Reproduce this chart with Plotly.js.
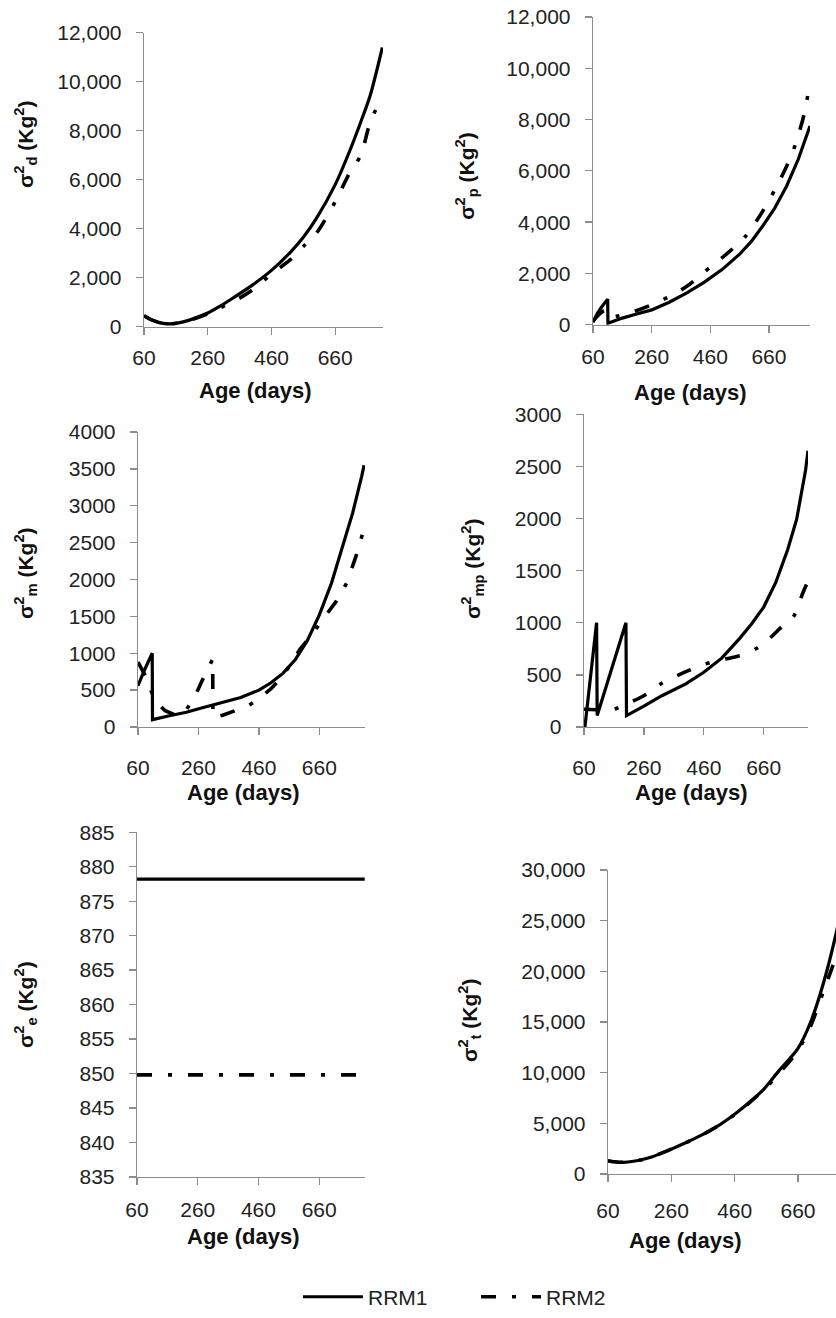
<!DOCTYPE html>
<html><head><meta charset="utf-8">
<script src="https://cdn.plot.ly/plotly-3.0.1.min.js"></script>
<style>html,body{margin:0;padding:0;background:#fff}#chart{width:836px;height:1318px}</style>
</head><body><div id="chart"></div>
<script>
// ---- Data ----
const xTicks = [60, 260, 460, 660];
const seriesNames = ['RRM1', 'RRM2'];

// sigma2_d
const dAges  = [60, 80, 100, 120, 140, 160, 200, 260, 300, 340, 400, 460, 520, 560, 600, 660, 700, 740, 770, 808];
const dRRM1  = [450, 300, 200, 140, 120, 140, 260, 560, 850, 1180, 1700, 2300, 3050, 3650, 4400, 5800, 7000, 8350, 9450, 11400];
const dRRM2  = [450, 300, 210, 140, 120, 140, 250, 530, 780, 1020, 1500, 2150, 2750, 3280, 3800, 5100, 6150, 7000, 8350, 9400];

// sigma2_p
const pAges1 = [60, 75, 90, 110, 111, 130, 160, 200, 260, 320, 380, 440, 500, 560, 600, 640, 680, 720, 760, 800];
const pRRM1  = [100, 450, 700, 1000, 60, 150, 260, 390, 580, 880, 1240, 1660, 2150, 2750, 3250, 3870, 4550, 5400, 6450, 7750];
const pAges2 = [60, 80, 100, 110, 140, 200, 260, 320, 380, 460, 520, 580, 640, 700, 740, 780, 800];
const pRRM2  = [150, 400, 550, 300, 330, 520, 780, 1100, 1500, 2250, 2800, 3450, 4450, 5700, 6700, 8200, 9500];

// sigma2_m
const mAges1 = [60, 80, 107, 108, 160, 220, 264, 320, 400, 460, 500, 540, 580, 620, 660, 700, 740, 770, 800, 808];
const mRRM1  = [560, 760, 1000, 100, 150, 200, 250, 310, 400, 500, 600, 730, 910, 1170, 1520, 1950, 2500, 2900, 3400, 3550];
const mAges2 = [60, 85, 100, 120, 150, 190, 215, 250, 270, 290, 307, 308, 340, 380, 425, 460, 500, 530, 560, 595, 635, 670, 715, 750, 780, 805];
const mRRM2  = [880, 690, 520, 340, 220, 150, 200, 430, 610, 790, 920, 130, 160, 220, 290, 380, 520, 650, 820, 1050, 1250, 1450, 1700, 1950, 2300, 2650];

// sigma2_mp
const mpAges1 = [60, 63, 102, 104, 200, 202, 260, 320, 400, 460, 520, 580, 620, 660, 700, 740, 770, 800, 808];
const mpRRM1  = [0, 0, 1000, 110, 1000, 110, 200, 300, 414, 525, 660, 850, 990, 1150, 1384, 1700, 1990, 2465, 2650];
const mpAges2 = [60, 100, 150, 200, 260, 320, 400, 460, 500, 560, 600, 640, 680, 720, 760, 790, 805];
const mpRRM2  = [170, 165, 160, 220, 300, 420, 530, 600, 630, 670, 700, 760, 850, 960, 1060, 1280, 1380];

// sigma2_e
const eAges = [60, 810];
const eRRM1 = [878.2, 878.2];
const eRRM2 = [849.8, 849.8];

// sigma2_t
const tAges = [60, 80, 110, 140, 172, 200, 260, 300, 360, 400, 460, 500, 550, 600, 660, 700, 740, 780, 805];
const tRRM1 = [1300, 1200, 1150, 1250, 1450, 1700, 2450, 3000, 3900, 4600, 5900, 6900, 8300, 10200, 12400, 15000, 18800, 23700, 27500];
const tRRM2 = [1300, 1200, 1150, 1250, 1450, 1700, 2450, 3000, 3900, 4600, 5850, 6850, 8250, 9900, 12200, 14600, 18000, 21500, 24500];

const xTitle = 'Age (days)';
const yTitles = [
  'σ<sup>2</sup><sub>d</sub> (Kg<sup>2</sup>)',
  'σ<sup>2</sup><sub>p</sub> (Kg<sup>2</sup>)',
  'σ<sup>2</sup><sub>m</sub> (Kg<sup>2</sup>)',
  'σ<sup>2</sup><sub>mp</sub> (Kg<sup>2</sup>)',
  'σ<sup>2</sup><sub>e</sub> (Kg<sup>2</sup>)',
  'σ<sup>2</sup><sub>t</sub> (Kg<sup>2</sup>)'
];

// ---- Layout geometry (pixels) ----
const W = 836, H = 1318;
const fx = v => v / W;
const fy = v => 1 - v / H;

const panels = [
  {xs:[dAges,dAges],    ys:[dRRM1,dRRM2],   jump:[false,false], box:[144,383,33,329],   xr:[60,810], yr:[0,12000], dt:2000, fmt:',d', xt:[255,393], yt:[25,145],  xso:5,  yso:10},
  {xs:[pAges1,pAges2],  ys:[pRRM1,pRRM2],   jump:[true,false],  box:[593,810,17,327],   xr:[60,800], yr:[0,12000], dt:2000, fmt:',d', xt:[690,395], yt:[467,177], xso:6,  yso:10},
  {xs:[mAges1,mAges2],  ys:[mRRM1,mRRM2],   jump:[true,true],   box:[138,365,435,732],  xr:[60,811], yr:[0,4000],  dt:500,  fmt:'d',  xt:[243,798], yt:[25,577],  xso:14, yso:10},
  {xs:[mpAges1,mpAges2],ys:[mpRRM1,mpRRM2], jump:[true,false],  box:[584,808,417,732],  xr:[60,808], yr:[0,3000],  dt:500,  fmt:'d',  xt:[691,798], yt:[472,572], xso:14, yso:10},
  {xs:[eAges,eAges],    ys:[eRRM1,eRRM2],   jump:[false,false], box:[137,365,838,1185], xr:[60,811], yr:[835,885], dt:5,    fmt:'d',  xt:[243,1245],yt:[25,1012], xso:7,  yso:10},
  {xs:[tAges,tAges],    ys:[tRRM1,tRRM2],   jump:[false,false], box:[608,836,876,1182], xr:[60,780], yr:[0,30000], dt:5000, fmt:',d', xt:[685,1249],yt:[470,1028], xso:11, yso:10}
];

const tickFont = {family:'Liberation Sans, Arial, sans-serif', size:21, color:'#222'};
const axisCommon = {
  showline:true, linecolor:'#8c8c8c', linewidth:1.3,
  ticks:'outside', ticklen:7, tickwidth:1.3, tickcolor:'#8c8c8c',
  showgrid:false, zeroline:false, tickfont:tickFont, fixedrange:true
};
const lineStyles = [
  {color:'#000', width:3.2, dash:'solid'},
  {color:'#000', width:3.6, dash:'15px,16px,4px,16px'}
];

const traces = [];
const layout = {
  width:W, height:H, margin:{l:0,r:0,t:0,b:0},
  paper_bgcolor:'#fff', plot_bgcolor:'rgba(0,0,0,0)',
  showlegend:true,
  legend:{orientation:'h', x:fx(298), xanchor:'left', y:fy(1306), yanchor:'middle',
          font:{family:'Liberation Sans, Arial, sans-serif', size:21, color:'#222'},
          itemwidth:60, entrywidth:103, entrywidthmode:'pixels',
          bgcolor:'rgba(0,0,0,0)', traceorder:'normal'},
  annotations:[]
};

panels.forEach((p, i) => {
  const n = i === 0 ? '' : String(i + 1);
  const xa = 'xaxis' + n, ya = 'yaxis' + n;
  layout[xa] = Object.assign({}, axisCommon, {
    domain:[fx(p.box[0]), fx(p.box[1])], range:p.xr, anchor:'y' + n,
    tickvals:xTicks, ticktext:xTicks.map(String), ticklabelstandoff:p.xso
  });
  layout[ya] = Object.assign({}, axisCommon, {
    domain:[fy(p.box[3]), fy(p.box[2])], range:p.yr, anchor:'x' + n,
    dtick:p.dt, tick0:p.yr[0], tickformat:p.fmt, ticklabelstandoff:p.yso
  });
  for (let s = 0; s < 2; s++) {
    const st = Object.assign({}, lineStyles[s], p.jump[s] ? {shape:'linear'} : {shape:'spline', smoothing:0.8});
    traces.push({
      type:'scatter', mode:'lines', x:p.xs[s], y:p.ys[s],
      xaxis:'x' + n, yaxis:'y' + n, name:seriesNames[s],
      legendgroup:seriesNames[s], showlegend:i === 0,
      line:st, hoverinfo:'skip'
    });
  }
  layout.annotations.push({
    xref:'paper', yref:'paper', x:fx(p.xt[0]), y:fy(p.xt[1]), xanchor:'center', yanchor:'middle',
    text:'<b>' + xTitle + '</b>', showarrow:false,
    font:{family:'Liberation Sans, Arial, sans-serif', size:22, color:'#111'}
  });
  layout.annotations.push({
    xref:'paper', yref:'paper', x:fx(p.yt[0]), y:fy(p.yt[1]), xanchor:'center', yanchor:'middle',
    text:'<b>' + yTitles[i] + '</b>', textangle:-90, showarrow:false,
    font:{family:'Liberation Sans, Arial, sans-serif', size:21, color:'#111'}
  });
});

Plotly.newPlot('chart', traces, layout, {staticPlot:true, displayModeBar:false});
</script>
</body></html>
